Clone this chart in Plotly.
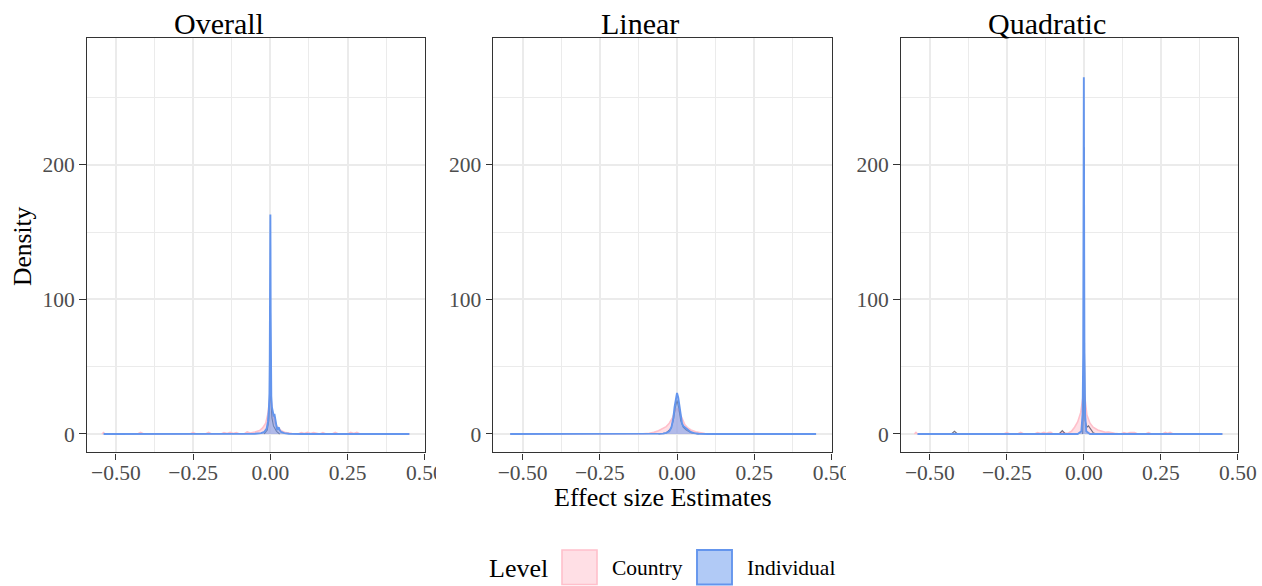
import plotly.graph_objects as go

W, H = 1262, 586

# ---------------- data ----------------
panel_titles = ["Overall", "Linear", "Quadratic"]
levels = ["Country", "Individual"]

x_tickvals = [-0.5, -0.25, 0.0, 0.25, 0.5]
x_ticktext = ["\u22120.50", "\u22120.25", "0.00", "0.25", "0.50"]
y_tickvals = [0, 100, 200]
y_ticktext = ["0", "100", "200"]

# Overall
ovr_cty_x = [-0.545, -0.54, -0.535, -0.43, -0.42, -0.41, -0.26, -0.25, -0.24, -0.21, -0.20, -0.19,
             -0.16, -0.15, -0.14, -0.13, -0.12, -0.11, -0.10, -0.085, -0.075, -0.065,
             -0.05, -0.035, -0.025, -0.015, -0.008, -0.003, 0.0, 0.003, 0.008, 0.015, 0.025, 0.035,
             0.05, 0.07, 0.09, 0.10, 0.11, 0.12, 0.13, 0.14, 0.16, 0.17, 0.18, 0.20, 0.21, 0.22,
             0.25, 0.26, 0.27, 0.28, 0.29, 0.45]
ovr_cty_y = [0, 1, 0, 0, 1.2, 0, 0, 1, 0, 0, 1.2, 0,
             0, 1, 0.3, 1.2, 0.3, 1, 0, 0, 1.5, 0.8,
             1.5, 2.5, 4.5, 8, 15, 24, 30, 24, 14, 8, 4.5, 2.5,
             1, 0.4, 0, 1, 0.3, 1.2, 0.3, 1, 0, 1, 0, 0, 1.2, 0,
             0, 1.2, 0.4, 1.2, 0, 0]
ovr_ind_x = [-0.54, -0.10, -0.05, -0.03, -0.02, -0.012, -0.008, -0.005, -0.003, -0.002, -0.001,
             -0.0004, 0.0, 0.0004, 0.001, 0.002, 0.003, 0.005, 0.008, 0.011, 0.013, 0.015, 0.018,
             0.022, 0.025, 0.027, 0.030, 0.035, 0.045, 0.06, 0.10, 0.45]
ovr_ind_y = [0, 0, 0.2, 0.6, 1.5, 4, 9, 18, 30, 55, 110,
             150, 163, 140, 90, 45, 28, 20, 15, 13, 15, 12, 6,
             3, 4, 5, 3, 1.5, 0.6, 0.2, 0, 0]
ovr_oth_x = [-0.02, -0.01, -0.005, -0.002, 0.0, 0.002, 0.005, 0.01, 0.02, 0.03]
ovr_oth_y = [0, 3, 10, 25, 40, 25, 12, 6, 2, 0]

# Linear
lin_cty_x = [-0.54, -0.13, -0.11, -0.09, -0.075, -0.06, -0.045, -0.035, -0.025, -0.015, -0.008,
             0.0, 0.008, 0.015, 0.025, 0.035, 0.045, 0.06, 0.075, 0.09, 0.11, 0.45]
lin_cty_y = [0, 0, 0.2, 0.6, 1.2, 2.4, 4, 5.5, 8, 12, 16,
             19, 16, 12, 7, 4.5, 3, 1.6, 0.8, 0.3, 0, 0]
lin_ind_x = [-0.54, -0.10, -0.06, -0.045, -0.035, -0.025, -0.018, -0.012, -0.008, -0.004, 0.0,
             0.004, 0.008, 0.012, 0.016, 0.020, 0.025, 0.030, 0.036, 0.044, 0.055, 0.07, 0.10, 0.45]
lin_ind_y = [0, 0, 0.1, 0.3, 0.8, 2, 5, 12, 20, 27, 30.5,
             27, 20, 13, 8, 6, 5, 4, 3, 1.5, 0.6, 0.2, 0, 0]
lin_oth_x = [-0.06, -0.035, -0.02, -0.012, -0.006, 0.0, 0.006, 0.012, 0.02, 0.03, 0.045, 0.07]
lin_oth_y = [0, 0.8, 4, 10, 19, 25, 19, 10, 5, 3, 1, 0]

# Quadratic
qd_cty_x = [-0.55, -0.545, -0.54, -0.26, -0.25, -0.24, -0.215, -0.205, -0.195,
            -0.16, -0.15, -0.14, -0.13, -0.12, -0.115, -0.107, -0.10, -0.08, -0.07, -0.06,
            -0.05, -0.045, -0.04, -0.03, -0.02, -0.01, -0.004, 0.0, 0.004, 0.01, 0.02, 0.03,
            0.045, 0.06, 0.07, 0.08, 0.09, 0.10, 0.12, 0.13, 0.14, 0.15, 0.165, 0.175,
            0.20, 0.21, 0.22, 0.255, 0.265, 0.272, 0.28, 0.29, 0.45]
qd_cty_y = [0, 1.2, 0, 0, 1, 0, 0, 1.2, 0,
            0, 1, 0.4, 1.2, 0.4, 1, 1.2, 0, 0.4, 1.5, 0.5,
            0.8, 1.5, 2, 5, 9, 16, 26, 32, 26, 14, 8, 5,
            3, 2, 1.2, 1.5, 0.8, 0.5, 0, 1, 0.4, 1, 1, 0,
            0, 1, 0, 0, 1.2, 0.4, 1.2, 0, 0]
qd_ind_x = [-0.54, -0.05, -0.02, -0.008, -0.004, -0.002, -0.001, -0.0004, 0.0, 0.0004, 0.001,
            0.002, 0.004, 0.008, 0.02, 0.05, 0.45]
qd_ind_y = [0, 0, 0, 2, 15, 60, 150, 230, 265, 230, 150,
            60, 15, 2, 0, 0, 0]
qd_oth_x = [-0.43, -0.42, -0.41, None, -0.08, -0.07, -0.06, None,
            -0.004, 0.0, 0.0005, 0.0012, 0.0022, 0.004, 0.01, 0.015, 0.02, 0.03, 0.04]
qd_oth_y = [0, 2, 0, None, 0, 2.5, 0, None,
            0, 30, 120, 213, 60, 10, 5, 6, 4, 1, 0]

panels = [
    (ovr_cty_x, ovr_cty_y, ovr_ind_x, ovr_ind_y, ovr_oth_x, ovr_oth_y),
    (lin_cty_x, lin_cty_y, lin_ind_x, lin_ind_y, lin_oth_x, lin_oth_y),
    (qd_cty_x, qd_cty_y, qd_ind_x, qd_ind_y, qd_oth_x, qd_oth_y),
]

# ---------------- styling ----------------
FONT = "Liberation Serif"
PINK_FILL = "rgba(255,192,203,0.5)"
PINK_LINE = "#FFC0CB"
BLUE_FILL = "rgba(100,149,237,0.5)"
BLUE_LINE = "#6495ED"
DARK_LINE = "rgba(70,70,90,0.75)"

x_domains_px = [(86.7, 425.0), (493.3, 831.7), (900.7, 1238.0)]
y_domain = [1 - 452.3 / H, 1 - 38.0 / H]
title_centers_px = [219, 640, 1047]

fig = go.Figure()

for i, (cx, cy, ix, iy, ox, oy) in enumerate(panels):
    xa = "x" if i == 0 else f"x{i+1}"
    ya = "y" if i == 0 else f"y{i+1}"
    fig.add_trace(go.Scatter(x=cx, y=cy, xaxis=xa, yaxis=ya, mode="lines", fill="tozeroy",
                             fillcolor=PINK_FILL, line=dict(color=PINK_LINE, width=1.6),
                             name=levels[0], showlegend=False, hoverinfo="skip"))
    fig.add_trace(go.Scatter(x=ox, y=oy, xaxis=xa, yaxis=ya, mode="lines",
                             line=dict(color=DARK_LINE, width=1.1), connectgaps=False,
                             name=levels[1], showlegend=False, hoverinfo="skip"))
    fig.add_trace(go.Scatter(x=ix, y=iy, xaxis=xa, yaxis=ya, mode="lines", fill="tozeroy",
                             fillcolor=BLUE_FILL, line=dict(color=BLUE_LINE, width=1.9),
                             name=levels[1], showlegend=False, hoverinfo="skip"))

axis_common = dict(
    showgrid=True, gridcolor="#EBEBEB", gridwidth=1.5, zeroline=False,
    showline=True, mirror=True, linecolor="#333333", linewidth=1.4,
    ticks="outside", ticklen=6.5, tickwidth=1.3, tickcolor="#333333",
    tickfont=dict(family=FONT, size=21.5, color="#4D4D4D"),
    automargin=False,
)

layout_axes = {}
for i in range(3):
    xk = "xaxis" if i == 0 else f"xaxis{i+1}"
    yk = "yaxis" if i == 0 else f"yaxis{i+1}"
    x0, x1 = x_domains_px[i]
    layout_axes[xk] = dict(
        axis_common, domain=[x0 / W, x1 / W], range=[-0.5945, 0.5005],
        tickmode="array", tickvals=x_tickvals, ticktext=x_ticktext,
        ticklabelstandoff=-6,
        anchor="y" if i == 0 else f"y{i+1}",
        minor=dict(tickvals=[-0.375, -0.125, 0.125, 0.375], showgrid=True,
                   gridcolor="#EBEBEB", gridwidth=0.8, ticks=""),
    )
    layout_axes[yk] = dict(
        axis_common, domain=y_domain, range=[-13.6, 294.2],
        tickmode="array", tickvals=y_tickvals, ticktext=y_ticktext,
        anchor="x" if i == 0 else f"x{i+1}",
        minor=dict(tickvals=[50, 150, 250], showgrid=True,
                   gridcolor="#EBEBEB", gridwidth=0.8, ticks=""),
    )

annotations = []
for i, t in enumerate(panel_titles):
    annotations.append(dict(text=t, x=title_centers_px[i] / W, y=1 - 24 / H, xref="paper", yref="paper",
                            xanchor="center", yanchor="middle", showarrow=False,
                            font=dict(family=FONT, size=30, color="black")))
annotations.append(dict(text="Effect size Estimates", x=662.5 / W, y=1 - 497 / H, xref="paper",
                        yref="paper", xanchor="center", yanchor="middle", showarrow=False,
                        font=dict(family=FONT, size=26, color="black")))
annotations.append(dict(text="Density", x=22 / W, y=1 - 246 / H, xref="paper", yref="paper",
                        xanchor="center", yanchor="middle", textangle=-90, showarrow=False,
                        font=dict(family=FONT, size=25.5, color="black")))
# legend (drawn manually)
annotations.append(dict(text="Level", x=487 / W, y=1 - 568 / H, xref="paper", yref="paper",
                        xanchor="left", yanchor="middle", showarrow=False,
                        font=dict(family=FONT, size=26, color="black")))
annotations.append(dict(text=levels[0], x=610 / W, y=1 - 568 / H, xref="paper", yref="paper",
                        xanchor="left", yanchor="middle", showarrow=False,
                        font=dict(family=FONT, size=21.5, color="black")))
annotations.append(dict(text=levels[1], x=745 / W, y=1 - 568 / H, xref="paper", yref="paper",
                        xanchor="left", yanchor="middle", showarrow=False,
                        font=dict(family=FONT, size=21.5, color="black")))

shapes = [
    dict(type="rect", xref="paper", yref="paper", x0=562 / W, x1=597 / W, y0=1 - 584.5 / H,
         y1=1 - 550 / H, fillcolor=PINK_FILL, line=dict(color=PINK_LINE, width=1.6)),
    dict(type="rect", xref="paper", yref="paper", x0=697 / W, x1=732 / W, y0=1 - 584.5 / H,
         y1=1 - 550 / H, fillcolor=BLUE_FILL, line=dict(color=BLUE_LINE, width=1.9)),
    # clip the 0.50 labels that run into the next plot, as in the reference
    dict(type="rect", xref="paper", yref="paper", x0=436 / W, x1=455 / W, y0=1 - 484 / H,
         y1=1 - 456 / H, fillcolor="white", line=dict(width=0), layer="above"),
    dict(type="rect", xref="paper", yref="paper", x0=846 / W, x1=865 / W, y0=1 - 484 / H,
         y1=1 - 456 / H, fillcolor="white", line=dict(width=0), layer="above"),
]

fig.update_layout(
    width=W, height=H,
    margin=dict(l=0, r=0, t=0, b=0),
    paper_bgcolor="white", plot_bgcolor="white",
    showlegend=False,
    font=dict(family=FONT),
    annotations=annotations, shapes=shapes,
    **layout_axes,
)

fig.write_html("out.html", config={"displayModeBar": False},
               post_script="document.body.style.margin='0';document.body.style.overflow='hidden';")
